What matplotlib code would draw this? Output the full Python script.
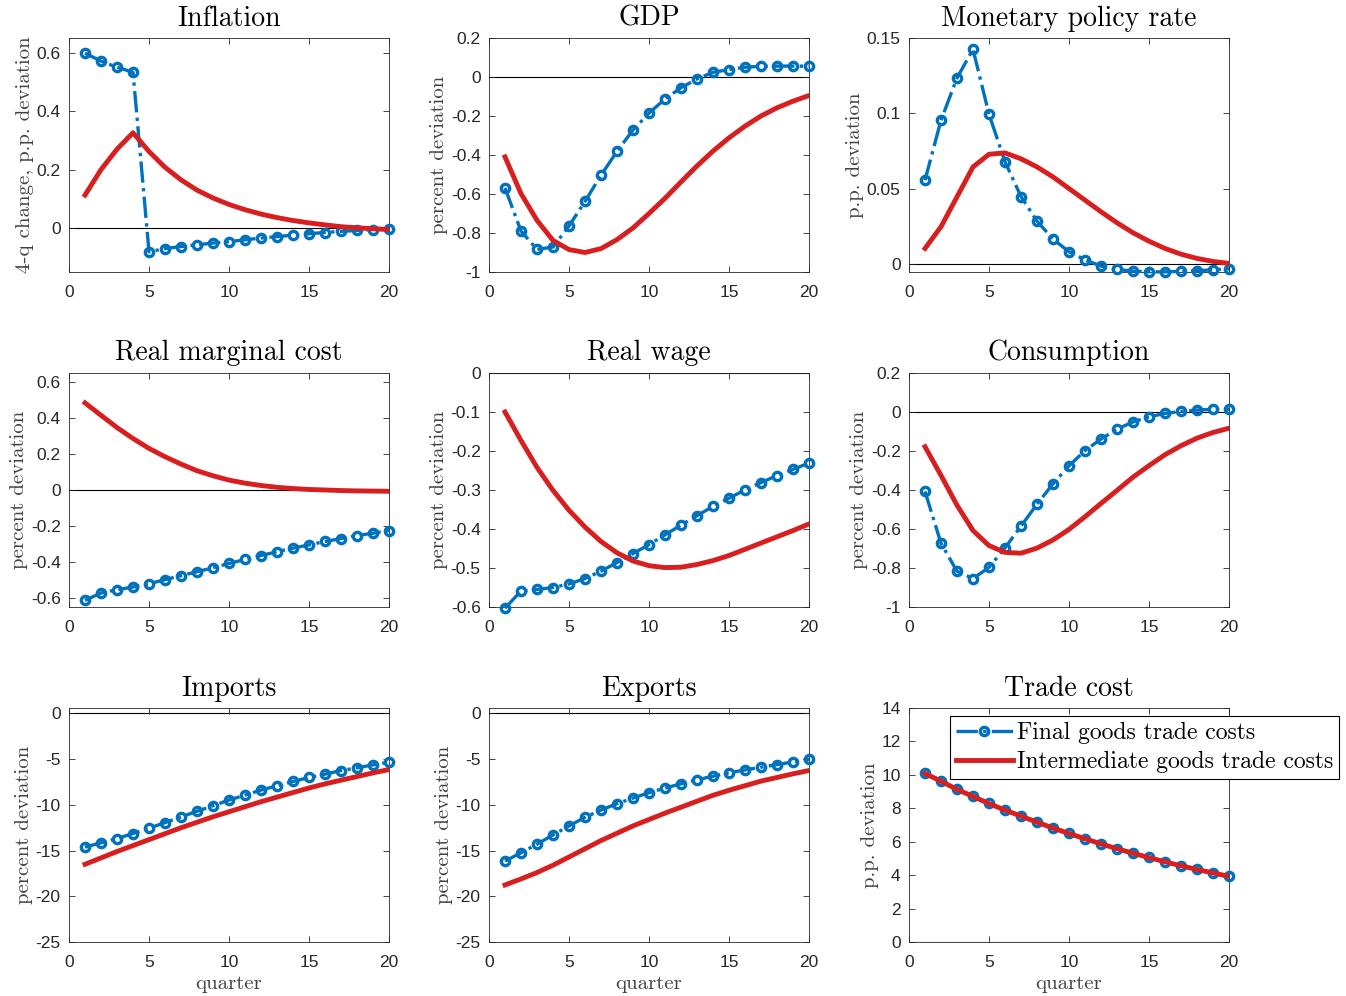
import numpy as np
import matplotlib
matplotlib.use("Agg")
import matplotlib.pyplot as plt
from matplotlib.ticker import FormatStrFormatter

plt.rcParams["font.family"] = ["Liberation Sans", "DejaVu Sans"]
plt.rcParams["axes.unicode_minus"] = False

quarters = np.arange(1, 21)

# final goods trade costs (blue) / intermediate goods trade costs (red)
inflation_final = [0.598, 0.571, 0.550, 0.533, -0.081, -0.070, -0.063, -0.057, -0.051, -0.046,
                   -0.040, -0.034, -0.029, -0.024, -0.019, -0.015, -0.011, -0.008, -0.005, -0.002]
inflation_inter = [0.113, 0.200, 0.270, 0.326, 0.262, 0.208, 0.165, 0.130, 0.103, 0.081,
                   0.063, 0.048, 0.036, 0.026, 0.018, 0.011, 0.005, 0.001, -0.002, -0.005]

gdp_final = [-0.569, -0.790, -0.884, -0.872, -0.764, -0.638, -0.504, -0.381, -0.272, -0.185,
             -0.113, -0.055, -0.010, 0.024, 0.038, 0.050, 0.055, 0.056, 0.056, 0.055]
gdp_inter = [-0.410, -0.598, -0.735, -0.838, -0.885, -0.900, -0.880, -0.834, -0.774, -0.700,
             -0.622, -0.538, -0.456, -0.380, -0.312, -0.252, -0.200, -0.158, -0.124, -0.095]

mpr_final = [0.0558, 0.0955, 0.1235, 0.1425, 0.0995, 0.0680, 0.0450, 0.0287, 0.0168, 0.0084,
             0.0031, -0.0011, -0.0033, -0.0044, -0.0049, -0.0049, -0.0046, -0.0042, -0.0035, -0.0029]
mpr_inter = [0.0106, 0.0250, 0.0448, 0.0646, 0.0730, 0.0739, 0.0700, 0.0646, 0.0580, 0.0503,
             0.0426, 0.0349, 0.0276, 0.0210, 0.0154, 0.0106, 0.0068, 0.0040, 0.0020, 0.0007]

rmc_final = [-0.613, -0.572, -0.554, -0.539, -0.521, -0.498, -0.476, -0.454, -0.432, -0.408,
             -0.386, -0.364, -0.343, -0.323, -0.305, -0.286, -0.270, -0.253, -0.240, -0.225]
rmc_inter = [0.484, 0.415, 0.347, 0.286, 0.231, 0.185, 0.144, 0.107, 0.079, 0.055,
             0.038, 0.025, 0.015, 0.008, 0.003, 0.000, -0.003, -0.005, -0.006, -0.007]

wage_final = [-0.603, -0.559, -0.555, -0.550, -0.541, -0.527, -0.508, -0.486, -0.463, -0.440,
              -0.415, -0.390, -0.366, -0.342, -0.321, -0.300, -0.281, -0.263, -0.247, -0.231]
wage_inter = [-0.100, -0.173, -0.242, -0.301, -0.352, -0.395, -0.432, -0.461, -0.482, -0.494,
              -0.499, -0.498, -0.491, -0.481, -0.468, -0.452, -0.436, -0.420, -0.404, -0.387]

cons_final = [-0.407, -0.673, -0.817, -0.854, -0.797, -0.697, -0.585, -0.473, -0.368, -0.276,
              -0.198, -0.139, -0.088, -0.051, -0.025, -0.007, 0.003, 0.010, 0.014, 0.014]
cons_inter = [-0.178, -0.325, -0.478, -0.608, -0.685, -0.720, -0.724, -0.698, -0.656, -0.602,
              -0.537, -0.469, -0.402, -0.334, -0.275, -0.219, -0.173, -0.134, -0.105, -0.083]

imp_final = [-14.62, -14.15, -13.68, -13.13, -12.55, -11.94, -11.32, -10.70, -10.09, -9.47,
             -8.93, -8.38, -7.91, -7.44, -7.00, -6.64, -6.24, -5.95, -5.62, -5.33]
imp_inter = [-16.50, -15.80, -15.10, -14.45, -13.80, -13.15, -12.50, -11.90, -11.30, -10.75,
             -10.20, -9.65, -9.15, -8.65, -8.15, -7.70, -7.30, -6.90, -6.50, -6.13]

exp_final = [-16.15, -15.24, -14.30, -13.28, -12.30, -11.36, -10.56, -9.87, -9.25, -8.67,
             -8.16, -7.69, -7.26, -6.86, -6.50, -6.17, -5.88, -5.59, -5.30, -5.00]
exp_inter = [-18.76, -18.10, -17.40, -16.60, -15.70, -14.80, -13.90, -13.10, -12.30, -11.60,
             -10.90, -10.25, -9.60, -8.95, -8.40, -7.90, -7.40, -7.00, -6.60, -6.24]

tc_final = [10.11, 9.64, 9.14, 8.72, 8.29, 7.89, 7.54, 7.18, 6.82, 6.50,
            6.19, 5.87, 5.59, 5.31, 5.06, 4.80, 4.56, 4.34, 4.14, 3.93]
tc_inter = [10.08, 9.62, 9.13, 8.71, 8.28, 7.89, 7.53, 7.17, 6.82, 6.49,
            6.18, 5.87, 5.58, 5.31, 5.05, 4.80, 4.56, 4.34, 4.13, 3.93]

titles = ["Inflation", "GDP", "Monetary policy rate",
          "Real marginal cost", "Real wage", "Consumption",
          "Imports", "Exports", "Trade cost"]
ylabels = ["4-q change, p.p. deviation", "percent deviation", "p.p. deviation",
           "percent deviation", "percent deviation", "percent deviation",
           "percent deviation", "percent deviation", "p.p. deviation"]
final_series = [inflation_final, gdp_final, mpr_final, rmc_final, wage_final,
                cons_final, imp_final, exp_final, tc_final]
inter_series = [inflation_inter, gdp_inter, mpr_inter, rmc_inter, wage_inter,
                cons_inter, imp_inter, exp_inter, tc_inter]
ylims = [(-0.15, 0.65), (-1, 0.2), (-0.005, 0.15),
         (-0.65, 0.65), (-0.6, 0), (-1, 0.2),
         (-25, 0.6), (-25, 0.6), (0, 14)]
yticks = [[0, 0.2, 0.4, 0.6],
          [-1, -0.8, -0.6, -0.4, -0.2, 0, 0.2],
          [0, 0.05, 0.1, 0.15],
          [-0.6, -0.4, -0.2, 0, 0.2, 0.4, 0.6],
          [-0.6, -0.5, -0.4, -0.3, -0.2, -0.1, 0],
          [-1, -0.8, -0.6, -0.4, -0.2, 0, 0.2],
          [-25, -20, -15, -10, -5, 0],
          [-25, -20, -15, -10, -5, 0],
          [0, 2, 4, 6, 8, 10, 12, 14]]

blue = "#0072BD"
red = "#D81E1E"
serif = "cmr10"

fig = plt.figure(figsize=(13.46, 9.96), dpi=100)

lefts = [69, 489, 909]
tops = [38, 373, 708]
w_px, h_px = 320, 234

for i in range(9):
    r, c = divmod(i, 3)
    ax = fig.add_axes([lefts[c] / 1346, 1 - (tops[r] + h_px) / 996, w_px / 1346, h_px / 996])

    ax.axhline(0, color="black", lw=0.8, zorder=1)
    ax.plot(quarters, final_series[i], color=blue, ls="-.", lw=2.4, marker="o",
            ms=6, mew=2.4, mfc="none", clip_on=False, zorder=3,
            label="Final goods trade costs")
    ax.plot(quarters, inter_series[i], color=red, ls="-", lw=3.5, zorder=4,
            label="Intermediate goods trade costs")

    ax.set_xlim(0, 20)
    ax.set_ylim(*ylims[i])
    ax.set_xticks([0, 5, 10, 15, 20])
    ax.set_yticks(yticks[i])
    ax.yaxis.set_major_formatter(FormatStrFormatter("%g"))
    ax.tick_params(direction="in", top=True, right=True, labelsize=12.5,
                   colors="#262626", length=4, width=0.6)
    ax.tick_params(axis="x", pad=9)
    ax.tick_params(axis="y", pad=6)
    for s in ax.spines.values():
        s.set_color("#262626")
        s.set_linewidth(0.6)

    ax.set_title(titles[i], fontfamily=serif, fontsize=20, pad=9)
    ax.set_ylabel(ylabels[i], fontfamily=serif, fontsize=15, color="#404040", labelpad=2)
    if r == 2:
        ax.set_xlabel("quarter", fontfamily=serif, fontsize=15, color="#404040", labelpad=4)

    if i == 8:
        leg = ax.legend(loc="upper left", bbox_to_anchor=(950 / 1346, 1 - 716 / 996),
                        bbox_transform=fig.transFigure, prop={"family": serif, "size": 17},
                        frameon=True, fancybox=False, edgecolor="black", framealpha=1,
                        borderpad=0.25, labelspacing=0.3, handlelength=2.4, handletextpad=0.2,
                        borderaxespad=0)
        leg.get_frame().set_linewidth(0.8)

fig.savefig("out.png", dpi=100)
